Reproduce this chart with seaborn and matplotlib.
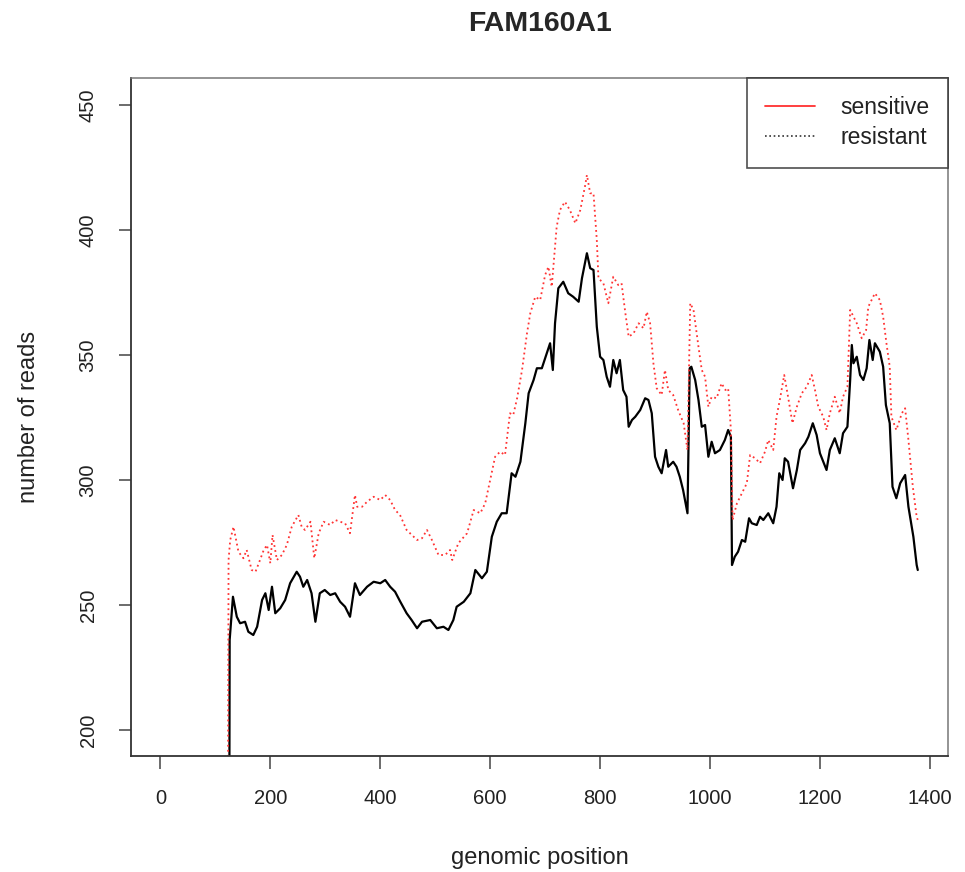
import matplotlib
matplotlib.use("Agg")
import matplotlib.pyplot as plt
from matplotlib.lines import Line2D
import numpy as np
import pandas as pd
import seaborn as sns

# Read depth along the FAM160A1 locus
sensitive_pos = [1, 124, 126, 132, 139, 145, 154, 160, 169, 176, 185, 191, 197, 203, 209, 218,
                 227, 236, 248, 254, 260, 267, 275, 282, 290, 299, 309, 318, 327, 336, 345, 354,
                 363, 376, 388, 400, 409, 418, 427, 436, 448, 457, 467, 476, 491, 503, 515, 524,
                 533, 539, 552, 564, 573, 585, 594, 603, 612, 621, 630, 639, 646, 655, 664, 670,
                 679, 685, 694, 703, 709, 714, 718, 724, 733, 742, 751, 761, 767, 776, 782, 788,
                 794, 800, 806, 812, 818, 824, 830, 836, 842, 848, 852, 858, 864, 873, 882, 888,
                 894, 900, 906, 912, 920, 924, 933, 939, 945, 951, 959, 963, 966, 973, 979, 985,
                 991, 997, 1003, 1009, 1018, 1027, 1033, 1038, 1040, 1045, 1051, 1058, 1064, 1071,
                 1076, 1085, 1091, 1097, 1106, 1115, 1121, 1126, 1132, 1136, 1142, 1151, 1158,
                 1164, 1173, 1179, 1187, 1194, 1200, 1206, 1212, 1218, 1227, 1236, 1242, 1250,
                 1255, 1258, 1261, 1267, 1273, 1279, 1285, 1290, 1296, 1300, 1309, 1315, 1320,
                 1327, 1332, 1339, 1346, 1355, 1361, 1370, 1376, 1378]
sensitive_reads = [0, 0, 236, 253.3, 245.3, 242.7, 243.3, 239.3, 238, 241.3, 252, 254.7, 248,
                   257.3, 246.7, 248.7, 252, 258.7, 263.3, 261.3, 257.3, 260, 254.7, 243.3, 254.7,
                   256, 254, 254.7, 251.3, 249.3, 245.3, 258.7, 254, 257.3, 259.3, 258.7, 260,
                   257.3, 255.3, 251.5, 246.7, 244, 240.7, 243.3, 244, 240.7, 241.3, 240, 244,
                   249.3, 251.3, 254.7, 264, 260.7, 263.3, 277.3, 283.3, 286.7, 286.7, 302.7,
                   301.3, 307.3, 322.7, 334.7, 340, 344.7, 344.7, 350.7, 354.7, 344, 362.7, 376.7,
                   379.3, 374.7, 373.3, 371.3, 380.7, 390.7, 384.7, 384, 361.3, 349.3, 348, 341.3,
                   337.3, 348, 342.7, 348, 336, 333.3, 321.3, 324, 325.3, 328, 332.7, 332, 326.7,
                   309.3, 305.3, 302.7, 312, 305.3, 307.3, 305.3, 301.3, 296, 286.7, 344.7, 345.3,
                   340, 332, 321.3, 322, 309.3, 315.3, 310.7, 312, 316, 320, 317.3, 266, 269.3,
                   271.3, 276, 275.3, 284.7, 282.7, 282, 285.3, 284, 286.7, 282.7, 289.3, 302.7,
                   300, 308.7, 307.3, 296.7, 304, 312, 314.7, 317.3, 322.7, 318, 310.7, 307.3, 304,
                   312, 316.7, 310.7, 318.7, 321.3, 340, 354, 346.7, 349.3, 342, 340, 344.7, 356,
                   348, 354.7, 351.3, 345.3, 330, 322.7, 297.3, 292.7, 298.7, 302, 289.3, 277.3,
                   266, 264]

resistant_pos = [1, 121, 124, 127, 133, 142, 151, 157, 166, 173, 179, 188, 194, 200, 204, 212,
                 221, 230, 239, 251, 257, 263, 273, 280, 288, 297, 309, 318, 327, 336, 345, 354,
                 358, 367, 376, 388, 400, 409, 418, 427, 436, 448, 467, 476, 485, 494, 506, 518,
                 527, 531, 542, 558, 570, 582, 591, 600, 609, 618, 627, 636, 642, 649, 658, 667,
                 673, 682, 691, 700, 706, 712, 721, 727, 736, 745, 755, 764, 773, 776, 782, 788,
                 794, 797, 806, 815, 824, 833, 839, 846, 852, 861, 870, 879, 885, 891, 897, 903,
                 912, 918, 924, 933, 942, 952, 959, 964, 970, 979, 985, 991, 997, 1003, 1012,
                 1021, 1028, 1033, 1038, 1041, 1049, 1058, 1067, 1073, 1082, 1091, 1100, 1106,
                 1115, 1121, 1127, 1135, 1142, 1150, 1158, 1167, 1176, 1185, 1191, 1197, 1206,
                 1212, 1218, 1227, 1236, 1242, 1250, 1255, 1261, 1267, 1276, 1284, 1288, 1294,
                 1300, 1309, 1315, 1321, 1327, 1330, 1339, 1349, 1355, 1361, 1369, 1376, 1378]
resistant_reads = [0, 0, 268, 276, 281.3, 271.3, 268.7, 272, 264, 263.3, 266.7, 272, 274, 266.7,
                   278, 268, 270, 274, 281.3, 286, 281.3, 280, 283.3, 268.7, 278.7, 283.3, 282,
                   284, 283.3, 282.7, 278.7, 294, 289.3, 289.3, 291.3, 293.3, 292, 294, 292, 288,
                   286, 280, 276, 276.7, 280, 276, 270, 270, 272, 268, 274.7, 278.7, 288, 286.7,
                   290.7, 300, 309.3, 311.3, 310, 326.7, 326, 332.7, 344, 358.7, 366.7, 373.3,
                   372, 382, 385.3, 377.3, 401.3, 408, 411.3, 408, 402.7, 408, 418, 422, 414.7,
                   414.7, 396, 380.7, 378.7, 370.7, 381.3, 378, 378.7, 366.7, 357.3, 358.7, 362.7,
                   360.7, 367.3, 362.7, 346.7, 336.7, 334, 344, 336, 334, 328, 322.7, 312, 370.7,
                   368, 353.3, 344, 341.3, 329.3, 333.3, 332.7, 338.7, 336, 336.7, 320, 284,
                   290.7, 294.7, 298.7, 310, 308.7, 306.7, 311.3, 316, 312, 325.3, 332, 342,
                   333.3, 322.7, 329.3, 334.7, 337.3, 342, 336, 329.3, 325.3, 320, 326.7, 333.3,
                   326.7, 333.3, 337.3, 368, 365.3, 362.7, 356.7, 360, 369.3, 372, 374.7, 372,
                   365.3, 354.7, 345.3, 325.3, 320, 326.7, 328.7, 316, 297.3, 285.3, 284]

legend_labels = ["sensitive", "resistant"]
x_ticks = [0, 200, 400, 600, 800, 1000, 1200, 1400]
y_ticks = [200, 250, 300, 350, 400, 450]

sns.set_theme(style="white")
plt.rcParams["font.family"] = ["Liberation Sans", "DejaVu Sans"]

fig = plt.figure(figsize=(9.65, 8.72), dpi=100)
ax = fig.add_axes([131 / 965, 1 - 756 / 872, (948 - 131) / 965, (756 - 78) / 872])

sens = pd.DataFrame({"position": sensitive_pos, "reads": sensitive_reads})
res = pd.DataFrame({"position": resistant_pos, "reads": resistant_reads})

sns.lineplot(data=sens, x="position", y="reads", ax=ax, color="black",
             linewidth=1.6, estimator=None, sort=True)
sns.lineplot(data=res, x="position", y="reads", ax=ax, color="#ff3333",
             linewidth=1.3, linestyle=(0, (1, 1.8)), estimator=None, sort=True)

ax.set_xlim(-53.5, 1433)
ax.set_ylim(189.6, 460.8)
ax.set_xticks(x_ticks)
ax.set_yticks(y_ticks)
ax.set_xticklabels([str(v) for v in x_ticks], fontsize=14.5, color="#222222")
ax.set_yticklabels([str(v) for v in y_ticks], fontsize=14.5, color="#222222",
                   rotation=90, va="center")
ax.tick_params(axis="both", direction="out", length=9, width=1.1, color="#444444",
               pad=15, bottom=True, left=True)

for side in ["top", "right"]:
    ax.spines[side].set_color("#777777")
    ax.spines[side].set_linewidth(1.1)
for side in ["left", "bottom"]:
    ax.spines[side].set_color("#333333")
    ax.spines[side].set_linewidth(1.3)

ax.set_xlabel("genomic position", fontsize=17, color="#222222", labelpad=28)
ax.set_ylabel("number of reads", fontsize=17, color="#222222", labelpad=28)
fig.suptitle("FAM160A1", fontsize=20.5, fontweight="bold", x=539.5 / 965, y=1 - 11 / 872,
             va="top")

handles = [Line2D([], [], color="#ff3030", linewidth=1.3),
           Line2D([], [], color="#333333", linewidth=1.2, linestyle=(0, (1, 1.6)))]
leg = ax.legend(handles, legend_labels, loc="upper right", borderaxespad=0,
                fontsize=16.5, frameon=True, fancybox=False, handlelength=2.2,
                handletextpad=1.1, labelspacing=0.3, borderpad=0.8)
leg.get_frame().set_edgecolor("#222222")
leg.get_frame().set_linewidth(1.2)
for t in leg.get_texts():
    t.set_color("#222222")

fig.savefig("out.png", dpi=100, facecolor="white")
